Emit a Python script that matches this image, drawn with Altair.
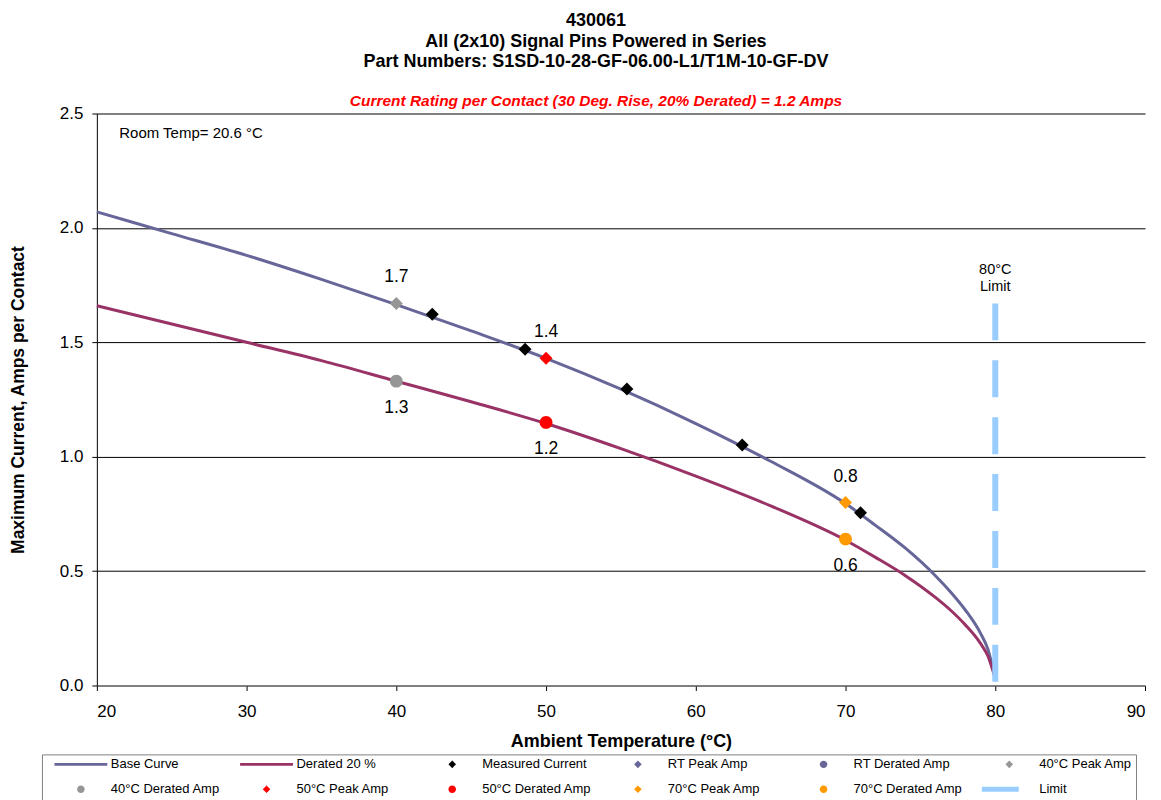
import altair as alt
import pandas as pd

FONT = "Liberation Sans, Arial, sans-serif"

# ---- data ----
curve_x = [20, 25, 30, 35, 40, 45, 50, 55, 60, 65, 70, 72, 74, 76, 77, 78, 79, 79.5, 80]
base_y = [2.07, 1.975, 1.88, 1.775, 1.665, 1.55, 1.43, 1.295, 1.145, 0.98, 0.795, 0.70, 0.60, 0.48, 0.41, 0.33, 0.23, 0.16, 0.03]
derated_y = [1.66, 1.58, 1.50, 1.42, 1.33, 1.24, 1.145, 1.035, 0.915, 0.785, 0.635, 0.56, 0.48, 0.385, 0.33, 0.265, 0.185, 0.13, 0.03]

meas_x = [42.4, 48.6, 55.4, 63.1, 71.0]
meas_y = [1.623, 1.470, 1.296, 1.051, 0.755]

peak_x = [40, 50, 70]
peak_y = [1.67, 1.43, 0.80]
peak_series = ["40°C Peak Amp", "50°C Peak Amp", "70°C Peak Amp"]
peak_labels = ["1.7", "1.4", "0.8"]

der_x = [40, 50, 70]
der_y = [1.33, 1.15, 0.64]
der_series = ["40°C Derated Amp", "50°C Derated Amp", "70°C Derated Amp"]
der_labels = ["1.3", "1.2", "0.6"]

limit_x = [80]
limit_top = [1.67]
limit_bottom = [0.0]
limit_text = ["80°C", "Limit"]
limit_text_y = [1.815, 1.742]

room_text = ["Room Temp= 20.6 °C"]
room_x = [21.5]
room_y = [2.415]

series_names = ["Base Curve", "Derated 20 %", "Measured Current", "RT Peak Amp",
                "RT Derated Amp", "40°C Peak Amp", "40°C Derated Amp", "50°C Peak Amp",
                "50°C Derated Amp", "70°C Peak Amp", "70°C Derated Amp", "Limit"]
series_colors = ["#666699", "#993366", "#000000", "#666699", "#666699", "#969696",
                 "#969696", "#FF0000", "#FF0000", "#FF9900", "#FF9900", "#99CCFF"]

# symbol glyphs (unit-box paths)
LINE = "M-0.946,-0.05H0.946V0.05H-0.946Z"
LIMIT = "M-0.98,-0.09H0.34V0.09H-0.98Z"
DIAM = "M0,-0.135L0.135,0L0,0.135L-0.135,0Z"
CIRC = "M0.134,0A0.134,0.134,0,1,1,-0.134,0A0.134,0.134,0,1,1,0.134,0Z"
series_shapes = [LINE, LINE, DIAM, DIAM, CIRC, DIAM, CIRC, DIAM, CIRC, DIAM, CIRC, LIMIT]

# ---- tables ----
curves = pd.DataFrame({"x": curve_x, "base": base_y, "derated": derated_y})
points = pd.DataFrame({
    "x": meas_x + peak_x + der_x,
    "y": meas_y + peak_y + der_y,
    "series": ["Measured Current"] * len(meas_x) + peak_series + der_series,
})
peak_df = pd.DataFrame({"x": peak_x, "y": peak_y, "label": peak_labels})
der_df = pd.DataFrame({"x": der_x, "y": der_y, "label": der_labels})
limit_df = pd.DataFrame({"x": limit_x, "top": limit_top, "bottom": limit_bottom})
limit_txt_df = pd.DataFrame({"x": limit_x * 2, "y": limit_text_y, "t": limit_text})
room_df = pd.DataFrame({"x": room_x, "y": room_y, "t": room_text})

x_scale = alt.Scale(domain=[20, 90], nice=False, zero=False)
y_scale = alt.Scale(domain=[0, 2.5], nice=False)

x_enc = alt.X("x:Q", scale=x_scale,
              axis=alt.Axis(values=list(range(20, 91, 10)), title="Ambient Temperature (°C)",
                            grid=False, format="d", labelPadding=13, titlePadding=13,
                            titleFontSize=18, domainColor="#808080"))
y_axis = alt.Axis(values=[0, 0.5, 1.0, 1.5, 2.0, 2.5], format=".1f", grid=True,
                  title="Maximum Current, Amps per Contact", labelPadding=9,
                  titlePadding=32, titleFontSize=17.5)

leg = alt.Legend(title=None, orient="none", legendX=-55, legendY=642, columns=6,
                 direction="horizontal", gridAlign="all", columnPadding=11, rowPadding=12,
                 labelFont=FONT, labelFontSize=13, labelColor="#000000", labelOffset=2,
                 symbolOffset=7, symbolSize=3136, symbolStrokeWidth=0, clipHeight=12,
                 strokeColor="#808080", padding=4, fillColor="#FFFFFF")

sdom = dict(domain=series_names)

base_line = alt.Chart(curves).mark_line(color="#666699", strokeWidth=3, interpolate="monotone").encode(
    x=x_enc, y=alt.Y("base:Q", scale=y_scale, axis=y_axis))
der_line = alt.Chart(curves).mark_line(color="#993366", strokeWidth=3, interpolate="monotone").encode(
    x="x:Q", y="derated:Q")

limit_rule = alt.Chart(limit_df).mark_rule(color="#99CCFF", strokeWidth=6, strokeDash=[37, 20]).encode(
    x="x:Q", y="top:Q", y2="bottom:Q")

pts = alt.Chart(points).mark_point(filled=True, opacity=1, size=9216, strokeWidth=0).encode(
    x="x:Q", y="y:Q",
    shape=alt.Shape("series:N", scale=alt.Scale(range=series_shapes, **sdom), legend=leg),
    color=alt.Color("series:N", scale=alt.Scale(range=series_colors, **sdom), legend=leg),
)

peak_txt = alt.Chart(peak_df).mark_text(font=FONT, fontSize=17.5, dy=-26, color="#000000").encode(
    x="x:Q", y="y:Q", text="label:N")
der_txt = alt.Chart(der_df).mark_text(font=FONT, fontSize=17.5, dy=27, color="#000000").encode(
    x="x:Q", y="y:Q", text="label:N")
lim_txt = alt.Chart(limit_txt_df).mark_text(font=FONT, fontSize=14.5, color="#000000").encode(
    x="x:Q", y="y:Q", text="t:N")
room_txt = alt.Chart(room_df).mark_text(font=FONT, fontSize=15, align="left", color="#000000").encode(
    x="x:Q", y="y:Q", text="t:N")

chart = alt.layer(base_line, der_line, limit_rule, pts, peak_txt, der_txt, lim_txt, room_txt).properties(
    width=1050, height=573,
    autosize=alt.AutoSizeParams(type="none"),
    padding={"top": 105, "left": 89, "right": 8, "bottom": 114},
    title=alt.TitleParams(
        text=["430061", "All (2x10) Signal Pins Powered in Series",
              "Part Numbers: S1SD-10-28-GF-06.00-L1/T1M-10-GF-DV"],
        subtitle="Current Rating per Contact (30 Deg. Rise, 20% Derated)  = 1.2 Amps",
        font=FONT, fontSize=18, fontWeight="bold", color="#000000", lineHeight=20.5,
        subtitleFont=FONT, subtitleFontSize=15.5, subtitleFontStyle="italic",
        subtitleFontWeight="bold", subtitleColor="#FF0000", subtitlePadding=23,
        anchor="middle", frame="group", offset=0, dy=5, dx=-25),
).configure_view(stroke=None).configure_axis(
    labelFont=FONT, labelFontSize=17, labelColor="#000000", titleFont=FONT,
    titleFontWeight="bold", titleColor="#000000", domainColor="#000000", tickColor="#000000",
    gridColor="#000000", gridOpacity=1, tickSize=5,
)

chart.save("out.html", embed_options={"renderer": "svg", "actions": False})
